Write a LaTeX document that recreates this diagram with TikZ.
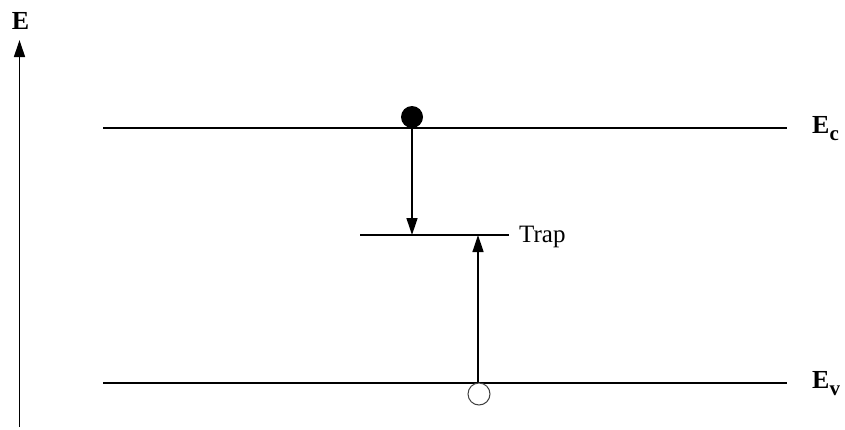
\documentclass[tikz,border=0pt]{standalone}
\usepackage{fontspec}
\setmainfont{Liberation Serif}
\usetikzlibrary{arrows.meta}
\newcommand{\lowsub}[1]{\raisebox{-7pt}{\fontsize{21}{23}\selectfont\bfseries #1}}
\begin{document}
\begin{tikzpicture}[x=1pt,y=-1pt,
  level/.style={line width=2pt},
  trapline/.style={line width=1.3pt},
  arr/.style={line width=1.3pt,-{Triangle[length=17pt,width=11pt]}},
  lbl/.style={font=\fontsize{26}{28}\selectfont\bfseries,anchor=base west,inner sep=0pt},
  particle/.style={circle,minimum size=22pt,inner sep=0pt,line width=1pt}]
\useasboundingbox (0,0) rectangle (845,429);
% axis
\coordinate (axb) at (19.5,427);
\coordinate (axt) at (19.5,40);
\draw[arr] (axb) -- (axt);
\node[font=\fontsize{26}{28}\selectfont\bfseries,anchor=base,inner sep=0pt] (E) at (20.5,29.5) {E};
% levels
\coordinate (ec1) at (103,128); \coordinate (ec2) at (787,128);
\coordinate (ev1) at (103,383); \coordinate (ev2) at (787,383);
\draw[level] (ec1) -- (ec2);
\draw[level] (ev1) -- (ev2);
\node[lbl] (Ec) at (812,133.5) {E\lowsub{c}};
\node[lbl] (Ev) at (812,388.5) {E\lowsub{v}};
% trap
\coordinate (t1) at (360,235); \coordinate (t2) at (509,235);
\draw[trapline] (t1) -- (t2);
\node[font=\fontsize{25}{27}\selectfont,anchor=base west,inner sep=0pt] (trap) at (519,242.5) {Trap};
% electron
\node[particle,fill=black] (el) at (412,117) {};
\coordinate (d1) at (412,128); \coordinate (d2) at (412,235);
\draw[arr] (d1) -- (d2);
% hole
\coordinate (u1) at (478,383); \coordinate (u2) at (478,235);
\draw[arr] (u1) -- (u2);
\node[particle,draw=black!75,fill=white] (hole) at (479,394) {};
\end{tikzpicture}
\end{document}
